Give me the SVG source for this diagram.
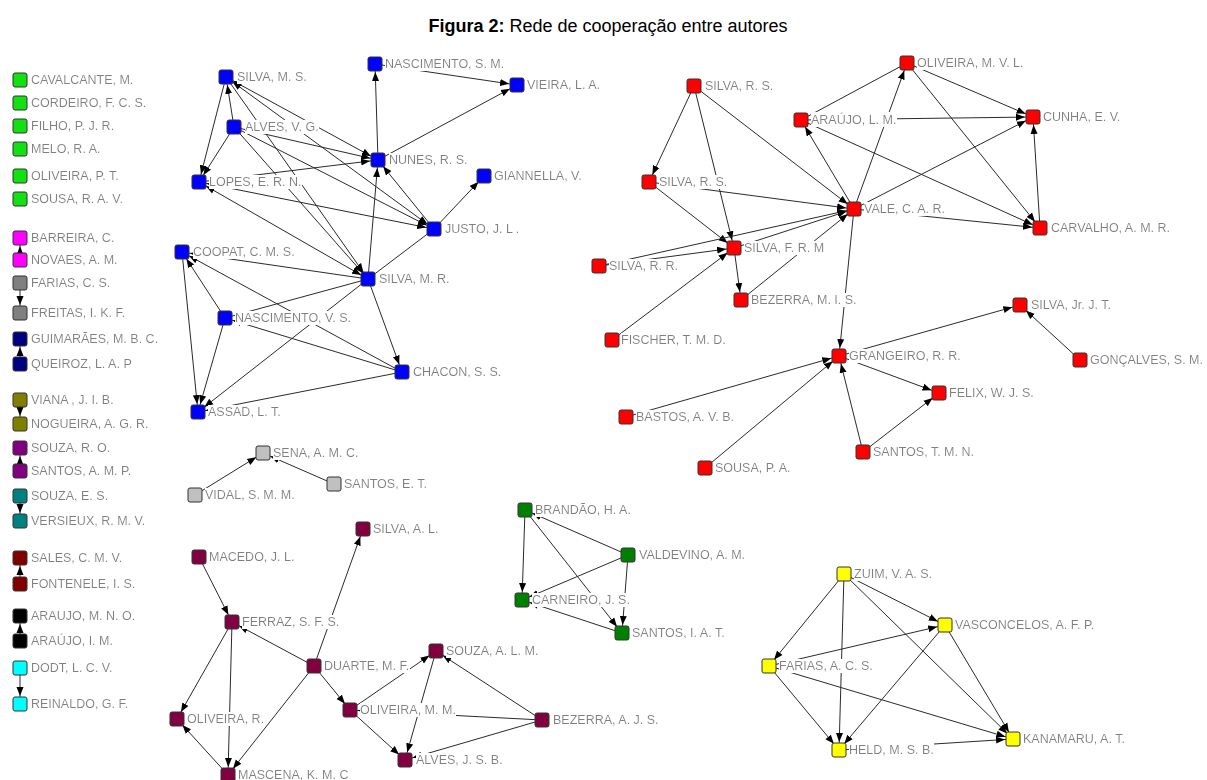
<svg xmlns="http://www.w3.org/2000/svg" width="1207" height="780" viewBox="0 0 1207 780">
<style>
.e{stroke:#2a2a2a;stroke-width:1;fill:none}
.a{marker-end:url(#ah)}
.b{marker-start:url(#ah);marker-end:url(#ah)}
rect.n{stroke:#333;stroke-width:1}
text.l{font-family:"Liberation Sans",Arial,sans-serif;font-size:12.5px;fill:#7f7f7f;filter:url(#lb)}
.title{font-family:"Liberation Sans",Arial,sans-serif;font-size:18px;fill:#000}
.c-lg{fill:#12e012}.c-mg{fill:#ff00ff}.c-gy{fill:#808080}.c-nv{fill:#000080}.c-ol{fill:#808000}.c-pu{fill:#800080}.c-tl{fill:#008080}.c-mr{fill:#800000}.c-bk{fill:#000000}.c-cy{fill:#00ffff}
.c-bl{fill:#0000ff}.c-rd{fill:#ff0000}.c-lt{fill:#c0c0c0}.c-cr{fill:#800040}.c-dg{fill:#008000}.c-ye{fill:#ffff00}
</style>
<defs>
<marker id="ah" viewBox="0 -4 17 8" markerWidth="17" markerHeight="8" refX="17" refY="0" orient="auto-start-reverse" markerUnits="userSpaceOnUse"><path d="M0,-3.5 L9,0 L0,3.5 Z" fill="#000"/></marker>
<filter id="lb" x="0" y="0" width="1" height="1"><feFlood flood-color="#ffffff" result="bg"/><feComposite in="SourceGraphic" in2="bg" operator="over"/></filter>
</defs>
<rect width="1207" height="780" fill="#ffffff"/>
<text class="title" x="608" y="32" text-anchor="middle"><tspan font-weight="bold">Figura 2:</tspan> Rede de cooperação entre autores</text>

<g id="connectors">
<!-- left pairs -->
<line class="e a" x1="20" y1="260" x2="20" y2="238"/>
<line class="e a" x1="20" y1="283" x2="20" y2="313"/>
<line class="e a" x1="20" y1="364" x2="20" y2="339"/>
<line class="e a" x1="20" y1="400" x2="20" y2="424"/>
<line class="e a" x1="20" y1="471" x2="20" y2="448"/>
<line class="e a" x1="20" y1="496" x2="20" y2="521"/>
<line class="e a" x1="20" y1="584" x2="20" y2="558"/>
<line class="e a" x1="20" y1="641" x2="20" y2="616"/>
<line class="e a" x1="20" y1="668" x2="20" y2="704"/>
<!-- blue -->
<line class="e a" x1="234" y1="127" x2="226" y2="77"/>
<line class="e a" x1="226" y1="77" x2="199" y2="182"/>
<line class="e a" x1="234" y1="127" x2="199" y2="182"/>
<line class="e b" x1="226" y1="77" x2="378" y2="160"/>
<line class="e b" x1="226" y1="77" x2="434" y2="229"/>
<line class="e a" x1="226" y1="77" x2="368" y2="279"/>
<line class="e a" x1="234" y1="127" x2="378" y2="160"/>
<line class="e a" x1="234" y1="127" x2="434" y2="229"/>
<line class="e a" x1="234" y1="127" x2="368" y2="279"/>
<line class="e a" x1="199" y1="182" x2="378" y2="160"/>
<line class="e b" x1="199" y1="182" x2="434" y2="229"/>
<line class="e b" x1="199" y1="182" x2="368" y2="279"/>
<line class="e a" x1="434" y1="229" x2="378" y2="160"/>
<line class="e a" x1="368" y1="279" x2="378" y2="160"/>
<line class="e a" x1="378" y1="160" x2="375" y2="64"/>
<line class="e a" x1="375" y1="64" x2="517" y2="85"/>
<line class="e a" x1="378" y1="160" x2="517" y2="85"/>
<line class="e a" x1="434" y1="229" x2="484" y2="176"/>
<line class="e" x1="434" y1="229" x2="368" y2="279"/>
<line class="e a" x1="368" y1="279" x2="182" y2="252"/>
<line class="e a" x1="402" y1="372" x2="182" y2="252"/>
<line class="e a" x1="225" y1="318" x2="182" y2="252"/>
<line class="e a" x1="182" y1="252" x2="198" y2="412"/>
<line class="e a" x1="225" y1="318" x2="198" y2="412"/>
<line class="e a" x1="368" y1="279" x2="198" y2="412"/>
<line class="e" x1="225" y1="318" x2="368" y2="279"/>
<line class="e a" x1="368" y1="279" x2="402" y2="372"/>
<line class="e a" x1="402" y1="372" x2="225" y2="318"/>
<line class="e a" x1="402" y1="372" x2="198" y2="412"/>
<!-- red -->
<line class="e a" x1="694" y1="86" x2="649" y2="182"/>
<line class="e a" x1="694" y1="86" x2="734" y2="248"/>
<line class="e a" x1="694" y1="86" x2="854" y2="209"/>
<line class="e a" x1="649" y1="182" x2="854" y2="209"/>
<line class="e a" x1="649" y1="182" x2="734" y2="248"/>
<line class="e a" x1="599" y1="266" x2="854" y2="209"/>
<line class="e a" x1="599" y1="266" x2="734" y2="248"/>
<line class="e a" x1="734" y1="248" x2="854" y2="209"/>
<line class="e a" x1="741" y1="300" x2="854" y2="209"/>
<line class="e a" x1="612" y1="340" x2="734" y2="248"/>
<line class="e a" x1="734" y1="248" x2="741" y2="300"/>
<line class="e a" x1="854" y1="209" x2="839" y2="356"/>
<line class="e a" x1="854" y1="209" x2="801" y2="120"/>
<line class="e a" x1="854" y1="209" x2="907" y2="63"/>
<line class="e a" x1="854" y1="209" x2="1033" y2="117"/>
<line class="e a" x1="854" y1="209" x2="1040" y2="228"/>
<line class="e" x1="801" y1="120" x2="907" y2="63"/>
<line class="e a" x1="801" y1="120" x2="1033" y2="117"/>
<line class="e a" x1="801" y1="120" x2="1040" y2="228"/>
<line class="e a" x1="907" y1="63" x2="1033" y2="117"/>
<line class="e a" x1="907" y1="63" x2="1040" y2="228"/>
<line class="e a" x1="1040" y1="228" x2="1033" y2="117"/>
<line class="e a" x1="839" y1="356" x2="1020" y2="305"/>
<line class="e a" x1="1080" y1="360" x2="1020" y2="305"/>
<line class="e a" x1="839" y1="356" x2="939" y2="393"/>
<line class="e a" x1="863" y1="452" x2="939" y2="393"/>
<line class="e a" x1="863" y1="452" x2="839" y2="356"/>
<line class="e a" x1="626" y1="417" x2="839" y2="356"/>
<line class="e a" x1="705" y1="468" x2="839" y2="356"/>
<!-- light gray -->
<line class="e a" x1="195" y1="495" x2="263" y2="453"/>
<line class="e a" x1="334" y1="484" x2="263" y2="453"/>
<!-- crimson -->
<line class="e a" x1="199" y1="557" x2="232" y2="622"/>
<line class="e a" x1="314" y1="666" x2="363" y2="529"/>
<line class="e a" x1="314" y1="666" x2="232" y2="622"/>
<line class="e a" x1="232" y1="622" x2="177" y2="719"/>
<line class="e a" x1="232" y1="622" x2="228" y2="775"/>
<line class="e a" x1="228" y1="775" x2="177" y2="719"/>
<line class="e a" x1="314" y1="666" x2="228" y2="775"/>
<line class="e a" x1="314" y1="666" x2="350" y2="710"/>
<line class="e a" x1="350" y1="710" x2="405" y2="760"/>
<line class="e a" x1="350" y1="710" x2="436" y2="651"/>
<line class="e a" x1="436" y1="651" x2="405" y2="760"/>
<line class="e a" x1="542" y1="720" x2="436" y2="651"/>
<line class="e a" x1="542" y1="720" x2="350" y2="710"/>
<line class="e a" x1="542" y1="720" x2="405" y2="760"/>
<!-- dark green -->
<line class="e a" x1="628" y1="555" x2="525" y2="510"/>
<line class="e a" x1="525" y1="510" x2="522" y2="600"/>
<line class="e a" x1="525" y1="510" x2="622" y2="633"/>
<line class="e a" x1="628" y1="555" x2="522" y2="600"/>
<line class="e a" x1="628" y1="555" x2="622" y2="633"/>
<line class="e a" x1="622" y1="633" x2="522" y2="600"/>
<!-- yellow -->
<line class="e a" x1="844" y1="574" x2="769" y2="666"/>
<line class="e a" x1="844" y1="574" x2="839" y2="750"/>
<line class="e a" x1="844" y1="574" x2="945" y2="625"/>
<line class="e a" x1="844" y1="574" x2="1013" y2="739"/>
<line class="e a" x1="769" y1="666" x2="945" y2="625"/>
<line class="e a" x1="769" y1="666" x2="839" y2="750"/>
<line class="e a" x1="769" y1="666" x2="1013" y2="739"/>
<line class="e a" x1="945" y1="625" x2="839" y2="750"/>
<line class="e a" x1="945" y1="625" x2="1013" y2="739"/>
<line class="e a" x1="839" y1="750" x2="1013" y2="739"/>
</g>

<!-- left column -->
<g id="n-cavalcante"><rect class="n c-lg" x="13" y="73" width="14" height="14" rx="2"/><text class="l" x="31" y="84">CAVALCANTE, M.</text></g>
<g id="n-cordeiro"><rect class="n c-lg" x="13" y="96" width="14" height="14" rx="2"/><text class="l" x="31" y="107">CORDEIRO, F. C. S.</text></g>
<g id="n-filho"><rect class="n c-lg" x="13" y="119" width="14" height="14" rx="2"/><text class="l" x="31" y="130">FILHO, P. J. R.</text></g>
<g id="n-melo"><rect class="n c-lg" x="13" y="142" width="14" height="14" rx="2"/><text class="l" x="31" y="153">MELO, R. A.</text></g>
<g id="n-oliveira-pt"><rect class="n c-lg" x="13" y="169" width="14" height="14" rx="2"/><text class="l" x="31" y="180">OLIVEIRA, P. T.</text></g>
<g id="n-sousa-rav"><rect class="n c-lg" x="13" y="192" width="14" height="14" rx="2"/><text class="l" x="31" y="203">SOUSA, R. A. V.</text></g>
<g id="n-barreira"><rect class="n c-mg" x="13" y="231" width="14" height="14" rx="2"/><text class="l" x="31" y="242">BARREIRA, C.</text></g>
<g id="n-novaes"><rect class="n c-mg" x="13" y="253" width="14" height="14" rx="2"/><text class="l" x="31" y="264">NOVAES, A. M.</text></g>
<g id="n-farias-cs"><rect class="n c-gy" x="13" y="276" width="14" height="14" rx="2"/><text class="l" x="31" y="287">FARIAS, C. S.</text></g>
<g id="n-freitas"><rect class="n c-gy" x="13" y="306" width="14" height="14" rx="2"/><text class="l" x="31" y="317">FREITAS, I. K. F.</text></g>
<g id="n-guimaraes"><rect class="n c-nv" x="13" y="332" width="14" height="14" rx="2"/><text class="l" x="31" y="343">GUIMARÃES, M. B. C.</text></g>
<g id="n-queiroz"><rect class="n c-nv" x="13" y="357" width="14" height="14" rx="2"/><text class="l" x="31" y="368">QUEIROZ, L. A. P</text></g>
<g id="n-viana"><rect class="n c-ol" x="13" y="393" width="14" height="14" rx="2"/><text class="l" x="31" y="404">VIANA , J. I. B.</text></g>
<g id="n-nogueira"><rect class="n c-ol" x="13" y="417" width="14" height="14" rx="2"/><text class="l" x="31" y="428">NOGUEIRA, A. G. R.</text></g>
<g id="n-souza-ro"><rect class="n c-pu" x="13" y="441" width="14" height="14" rx="2"/><text class="l" x="31" y="452">SOUZA, R. O.</text></g>
<g id="n-santos-amp"><rect class="n c-pu" x="13" y="464" width="14" height="14" rx="2"/><text class="l" x="31" y="475">SANTOS, A. M. P.</text></g>
<g id="n-souza-es"><rect class="n c-tl" x="13" y="489" width="14" height="14" rx="2"/><text class="l" x="31" y="500">SOUZA, E. S.</text></g>
<g id="n-versieux"><rect class="n c-tl" x="13" y="514" width="14" height="14" rx="2"/><text class="l" x="31" y="525">VERSIEUX, R. M. V.</text></g>
<g id="n-sales"><rect class="n c-mr" x="13" y="551" width="14" height="14" rx="2"/><text class="l" x="31" y="562">SALES, C. M. V.</text></g>
<g id="n-fontenele"><rect class="n c-mr" x="13" y="577" width="14" height="14" rx="2"/><text class="l" x="31" y="588">FONTENELE, I. S.</text></g>
<g id="n-araujo-mno"><rect class="n c-bk" x="13" y="609" width="14" height="14" rx="2"/><text class="l" x="31" y="620">ARAUJO, M. N. O.</text></g>
<g id="n-araujo-im"><rect class="n c-bk" x="13" y="634" width="14" height="14" rx="2"/><text class="l" x="31" y="645">ARAÚJO, I. M.</text></g>
<g id="n-dodt"><rect class="n c-cy" x="13" y="661" width="14" height="14" rx="2"/><text class="l" x="31" y="672">DODT, L. C. V.</text></g>
<g id="n-reinaldo"><rect class="n c-cy" x="13" y="697" width="14" height="14" rx="2"/><text class="l" x="31" y="708">REINALDO, G. F.</text></g>

<!-- blue -->
<g id="n-silva-ms"><rect class="n c-bl" x="219" y="70" width="14" height="14" rx="2"/><text class="l" x="237" y="81">SILVA, M. S.</text></g>
<g id="n-nascimento-sm"><rect class="n c-bl" x="368" y="57" width="14" height="14" rx="2"/><text class="l" x="385" y="68">NASCIMENTO, S. M.</text></g>
<g id="n-vieira"><rect class="n c-bl" x="510" y="78" width="14" height="14" rx="2"/><text class="l" x="527" y="89">VIEIRA, L. A.</text></g>
<g id="n-alves-vg"><rect class="n c-bl" x="227" y="120" width="14" height="14" rx="2"/><text class="l" x="245" y="131">ALVES, V. G.</text></g>
<g id="n-nunes"><rect class="n c-bl" x="371" y="153" width="14" height="14" rx="2"/><text class="l" x="389" y="164">NUNES, R. S.</text></g>
<g id="n-giannella"><rect class="n c-bl" x="477" y="169" width="14" height="14" rx="2"/><text class="l" x="494" y="180">GIANNELLA, V.</text></g>
<g id="n-lopes"><rect class="n c-bl" x="192" y="175" width="14" height="14" rx="2"/><text class="l" x="209" y="186">LOPES, E. R. N.</text></g>
<g id="n-justo"><rect class="n c-bl" x="427" y="222" width="14" height="14" rx="2"/><text class="l" x="445" y="233">JUSTO, J. L .</text></g>
<g id="n-coopat"><rect class="n c-bl" x="175" y="245" width="14" height="14" rx="2"/><text class="l" x="193" y="256">COOPAT, C. M. S.</text></g>
<g id="n-silva-mr"><rect class="n c-bl" x="361" y="272" width="14" height="14" rx="2"/><text class="l" x="379" y="283">SILVA, M. R.</text></g>
<g id="n-nascimento-vs"><rect class="n c-bl" x="218" y="311" width="14" height="14" rx="2"/><text class="l" x="235" y="322">NASCIMENTO, V. S.</text></g>
<g id="n-chacon"><rect class="n c-bl" x="395" y="365" width="14" height="14" rx="2"/><text class="l" x="413" y="376">CHACON, S. S.</text></g>
<g id="n-assad"><rect class="n c-bl" x="191" y="405" width="14" height="14" rx="2"/><text class="l" x="208" y="416">ASSAD, L. T.</text></g>

<!-- red -->
<g id="n-silva-rs1"><rect class="n c-rd" x="687" y="79" width="14" height="14" rx="2"/><text class="l" x="705" y="90">SILVA, R. S.</text></g>
<g id="n-araujo-lm"><rect class="n c-rd" x="794" y="113" width="14" height="14" rx="2"/><text class="l" x="811" y="124">ARAÚJO, L. M.</text></g>
<g id="n-oliveira-mvl"><rect class="n c-rd" x="900" y="56" width="14" height="14" rx="2"/><text class="l" x="917" y="67">OLIVEIRA, M. V. L.</text></g>
<g id="n-cunha"><rect class="n c-rd" x="1026" y="110" width="14" height="14" rx="2"/><text class="l" x="1043" y="121">CUNHA, E. V.</text></g>
<g id="n-silva-rs2"><rect class="n c-rd" x="642" y="175" width="14" height="14" rx="2"/><text class="l" x="659" y="186">SILVA, R. S.</text></g>
<g id="n-vale"><rect class="n c-rd" x="847" y="202" width="14" height="14" rx="2"/><text class="l" x="864" y="213">VALE, C. A. R.</text></g>
<g id="n-carvalho"><rect class="n c-rd" x="1033" y="221" width="14" height="14" rx="2"/><text class="l" x="1051" y="232">CARVALHO, A. M. R.</text></g>
<g id="n-silva-frm"><rect class="n c-rd" x="727" y="241" width="14" height="14" rx="2"/><text class="l" x="744" y="252">SILVA, F. R. M</text></g>
<g id="n-silva-rr"><rect class="n c-rd" x="592" y="259" width="14" height="14" rx="2"/><text class="l" x="609" y="270">SILVA, R. R.</text></g>
<g id="n-bezerra-mis"><rect class="n c-rd" x="734" y="293" width="14" height="14" rx="2"/><text class="l" x="751" y="304">BEZERRA, M. I. S.</text></g>
<g id="n-fischer"><rect class="n c-rd" x="605" y="333" width="14" height="14" rx="2"/><text class="l" x="621" y="344">FISCHER, T. M. D.</text></g>
<g id="n-grangeiro"><rect class="n c-rd" x="832" y="349" width="14" height="14" rx="2"/><text class="l" x="849" y="360">GRANGEIRO, R. R.</text></g>
<g id="n-silva-jr"><rect class="n c-rd" x="1013" y="298" width="14" height="14" rx="2"/><text class="l" x="1031" y="309">SILVA, Jr. J. T.</text></g>
<g id="n-goncalves"><rect class="n c-rd" x="1073" y="353" width="14" height="14" rx="2"/><text class="l" x="1090" y="364">GONÇALVES, S. M.</text></g>
<g id="n-felix"><rect class="n c-rd" x="932" y="386" width="14" height="14" rx="2"/><text class="l" x="949" y="397">FELIX, W. J. S.</text></g>
<g id="n-bastos"><rect class="n c-rd" x="619" y="410" width="14" height="14" rx="2"/><text class="l" x="636" y="421">BASTOS, A. V. B.</text></g>
<g id="n-santos-tmn"><rect class="n c-rd" x="856" y="445" width="14" height="14" rx="2"/><text class="l" x="873" y="456">SANTOS, T. M. N.</text></g>
<g id="n-sousa-pa"><rect class="n c-rd" x="698" y="461" width="14" height="14" rx="2"/><text class="l" x="715" y="472">SOUSA, P. A.</text></g>

<!-- light gray -->
<g id="n-sena"><rect class="n c-lt" x="256" y="446" width="14" height="14" rx="2"/><text class="l" x="273" y="457">SENA, A. M. C.</text></g>
<g id="n-santos-et"><rect class="n c-lt" x="327" y="477" width="14" height="14" rx="2"/><text class="l" x="344" y="488">SANTOS, E. T.</text></g>
<g id="n-vidal"><rect class="n c-lt" x="188" y="488" width="14" height="14" rx="2"/><text class="l" x="205" y="499">VIDAL, S. M. M.</text></g>

<!-- crimson -->
<g id="n-silva-al"><rect class="n c-cr" x="356" y="522" width="14" height="14" rx="2"/><text class="l" x="373" y="533">SILVA, A. L.</text></g>
<g id="n-macedo"><rect class="n c-cr" x="192" y="550" width="14" height="14" rx="2"/><text class="l" x="209" y="561">MACEDO, J. L.</text></g>
<g id="n-ferraz"><rect class="n c-cr" x="225" y="615" width="14" height="14" rx="2"/><text class="l" x="242" y="626">FERRAZ, S. F. S.</text></g>
<g id="n-duarte"><rect class="n c-cr" x="307" y="659" width="14" height="14" rx="2"/><text class="l" x="324" y="670">DUARTE, M. F.</text></g>
<g id="n-souza-alm"><rect class="n c-cr" x="429" y="644" width="14" height="14" rx="2"/><text class="l" x="446" y="655">SOUZA, A. L. M.</text></g>
<g id="n-oliveira-r"><rect class="n c-cr" x="170" y="712" width="14" height="14" rx="2"/><text class="l" x="187" y="723">OLIVEIRA, R.</text></g>
<g id="n-oliveira-mm"><rect class="n c-cr" x="343" y="703" width="14" height="14" rx="2"/><text class="l" x="360" y="714">OLIVEIRA, M. M.</text></g>
<g id="n-bezerra-ajs"><rect class="n c-cr" x="535" y="713" width="14" height="14" rx="2"/><text class="l" x="553" y="724">BEZERRA, A. J. S.</text></g>
<g id="n-alves-jsb"><rect class="n c-cr" x="398" y="753" width="14" height="14" rx="2"/><text class="l" x="416" y="764">ALVES, J. S. B.</text></g>
<g id="n-mascena"><rect class="n c-cr" x="221" y="768" width="14" height="14" rx="2"/><text class="l" x="238" y="779">MASCENA, K. M. C</text></g>

<!-- dark green -->
<g id="n-brandao"><rect class="n c-dg" x="518" y="503" width="14" height="14" rx="2"/><text class="l" x="535" y="514">BRANDÃO, H. A.</text></g>
<g id="n-valdevino"><rect class="n c-dg" x="621" y="548" width="14" height="14" rx="2"/><text class="l" x="639" y="559">VALDEVINO, A. M.</text></g>
<g id="n-carneiro"><rect class="n c-dg" x="515" y="593" width="14" height="14" rx="2"/><text class="l" x="532" y="604">CARNEIRO, J. S.</text></g>
<g id="n-santos-iat"><rect class="n c-dg" x="615" y="626" width="14" height="14" rx="2"/><text class="l" x="632" y="637">SANTOS, I. A. T.</text></g>

<!-- yellow -->
<g id="n-zuim"><rect class="n c-ye" x="837" y="567" width="14" height="14" rx="2"/><text class="l" x="854" y="578">ZUIM, V. A. S.</text></g>
<g id="n-vasconcelos"><rect class="n c-ye" x="938" y="618" width="14" height="14" rx="2"/><text class="l" x="955" y="629">VASCONCELOS, A. F. P.</text></g>
<g id="n-farias-acs"><rect class="n c-ye" x="762" y="659" width="14" height="14" rx="2"/><text class="l" x="779" y="670">FARIAS, A. C. S.</text></g>
<g id="n-held"><rect class="n c-ye" x="832" y="743" width="14" height="14" rx="2"/><text class="l" x="849" y="754">HELD, M. S. B.</text></g>
<g id="n-kanamaru"><rect class="n c-ye" x="1006" y="732" width="14" height="14" rx="2"/><text class="l" x="1023" y="743">KANAMARU, A. T.</text></g>
</svg>
